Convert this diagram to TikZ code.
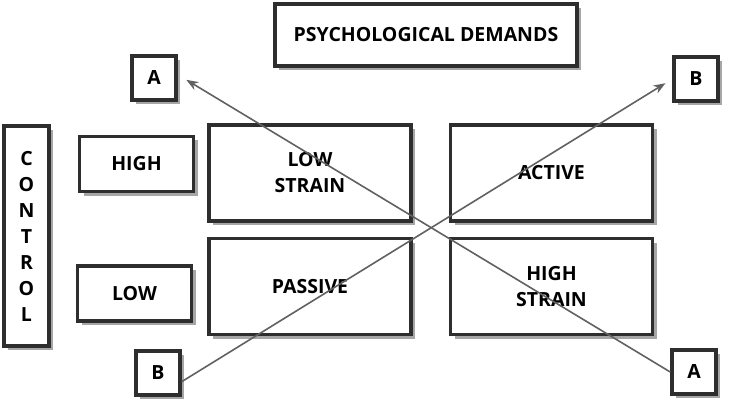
\documentclass[tikz,border=0pt]{standalone}
\usepackage{fontspec}
\setmainfont{Open Sans}
\usetikzlibrary{positioning}
\usetikzlibrary{shadows}
\usetikzlibrary{arrows.meta}

\begin{document}
\begin{tikzpicture}[x=1pt, y=-1pt,
        box/.style={draw=black!82, line width=3.5pt, fill=white, align=center, inner sep=0pt,
            font=\bfseries\fontsize{19.5}{26}\selectfont,
            drop shadow={shadow xshift=4pt, shadow yshift=-4pt, fill=black!35, opacity=1}},
        cell/.style={box, minimum width=202pt, minimum height=96pt},
        level/.style={box, minimum width=114pt, minimum height=55pt},
        letter/.style={box, minimum width=44pt, minimum height=44pt},
        link/.style={draw=black!62, line width=1.6pt, -{Stealth[length=12pt,width=9pt]}}]
        \useasboundingbox (0,0) rectangle (730,406);

        \node[box, minimum width=302pt, minimum height=62pt] (demands) at (426,35) {PSYCHOLOGICAL DEMANDS};

        \node[cell] (lowstrain) at (310,173) {LOW\\STRAIN};
        \node[cell, right=36pt of lowstrain] (active) {ACTIVE};
        \node[cell, below=14pt of lowstrain] (passive) {PASSIVE};
        \node[cell, below=14pt of active] (highstrain) {HIGH\\STRAIN};

        \node[level, left=12pt of lowstrain, yshift=9pt] (high) {HIGH};
        \node[level, left=14pt of passive, yshift=-7pt] (low) {LOW};
        \node[box, minimum width=45pt, minimum height=220pt] (control) at (26.5,236) {C\\O\\N\\T\\R\\O\\L};

        \node[letter] (atop) at (154,78) {A};
        \node[letter] (btop) at (696,79) {B};
        \node[letter] (bbottom) at (158,373) {B};
        \node[letter] (abottom) at (694,372) {A};

        % diagonals across the four cells
        \path[link, shorten >=10pt] (abottom.west) -- (atop.8);
        \path[link, shorten >=8pt] (bbottom.-20) -- (btop.west);
    \end{tikzpicture}
\end{document}
